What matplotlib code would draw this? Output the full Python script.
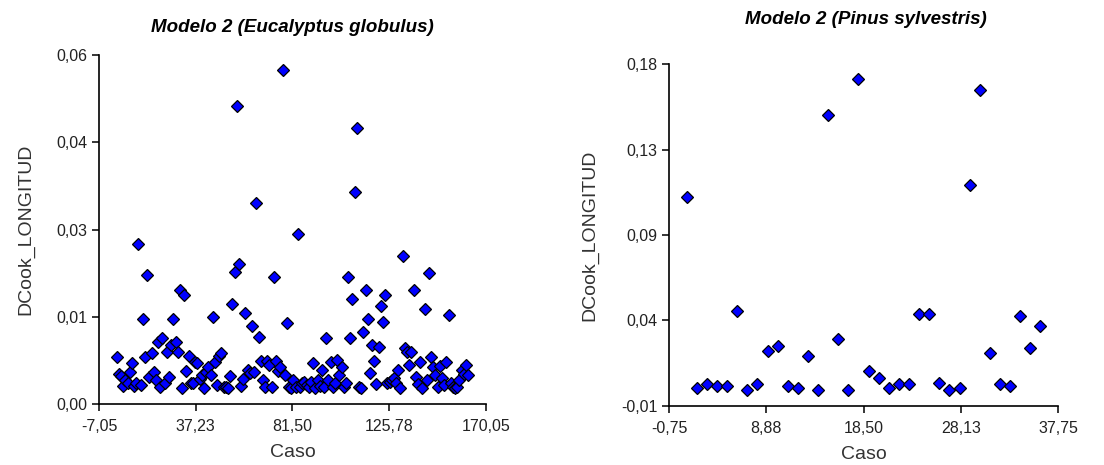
import numpy as np
import matplotlib
matplotlib.use('Agg')
import matplotlib.pyplot as plt

plt.rcParams['font.family'] = ['Liberation Sans', 'DejaVu Sans']

# Modelo 2 - Eucalyptus globulus (162 casos)
euc_dcook = [
    0.00814, 0.00516, 0.00487, 0.00309, 0.00413, 0.00367, 0.00556, 0.00699, 0.00309, 0.00367,
    0.02745, 0.00327, 0.01456, 0.00814, 0.02218, 0.00458, 0.00883, 0.00556, 0.00413, 0.01072,
    0.00298, 0.01129, 0.00355, 0.00900, 0.00470, 0.01014, 0.01456, 0.01072, 0.00900, 0.01960,
    0.00269, 0.01874, 0.00573, 0.00825, 0.00367, 0.00367, 0.00728, 0.00711, 0.00424, 0.00499,
    0.00269, 0.00556, 0.00642, 0.00499, 0.01490, 0.00728, 0.00327, 0.00825, 0.00883, 0.00298,
    0.00298, 0.00269, 0.00487, 0.01719, 0.02275, 0.05124, 0.02407, 0.00309, 0.00424, 0.01570,
    0.00585, 0.00539, 0.01341, 0.00556, 0.03450, 0.01158, 0.00745, 0.00413, 0.00298, 0.00745,
    0.00671, 0.00298, 0.02189, 0.00745, 0.00573, 0.00642, 0.05742, 0.00499, 0.01398, 0.00298,
    0.00269, 0.00413, 0.00287, 0.02923, 0.00298, 0.00355, 0.00384, 0.00327, 0.00287, 0.00384,
    0.00699, 0.00269, 0.00413, 0.00309, 0.00585, 0.00298, 0.01129, 0.00413, 0.00728, 0.00298,
    0.00367, 0.00756, 0.00499, 0.00642, 0.00298, 0.00355, 0.02189, 0.01129, 0.01800, 0.03651,
    0.04740, 0.00287, 0.00269, 0.01244, 0.01960, 0.01456, 0.00539, 0.01014, 0.00745, 0.00344,
    0.00986, 0.01685, 0.01416, 0.01874, 0.00355, 0.00384, 0.00413, 0.00441, 0.00355, 0.00585,
    0.00269, 0.02545, 0.00957, 0.00900, 0.00671, 0.00900, 0.01960, 0.00470, 0.00344, 0.00728,
    0.00269, 0.01628, 0.00413, 0.02258, 0.00814, 0.00642, 0.00499, 0.00298, 0.00653, 0.00441,
    0.00327, 0.00728, 0.01530, 0.00355, 0.00287, 0.00269, 0.00298, 0.00413, 0.00585, 0.00516,
    0.00671, 0.00499,
]
euc_caso = np.arange(1, len(euc_dcook) + 1)

# Modelo 2 - Pinus sylvestris (36 casos)
pin_dcook = [
    0.106, 0.000, 0.002, 0.001, 0.001, 0.0427, -0.001, 0.002, 0.0204, 0.0232,
    0.001, 0.000, 0.0176, -0.001, 0.1516, 0.0269, -0.001, 0.172, 0.0093, 0.0056,
    0.000, 0.002, 0.002, 0.0408, 0.0408, 0.0028, -0.001, 0.000, 0.1126, 0.1655,
    0.0195, 0.002, 0.001, 0.0399, 0.0223, 0.0343,
]
pin_caso = np.arange(1, len(pin_dcook) + 1)

euc_xticks = [-7.05, 37.2375, 81.525, 125.8125, 170.05]
euc_xlabels = ['-7,05', '37,23', '81,50', '125,78', '170,05']
euc_yticks = [0.0, 0.015, 0.03, 0.045, 0.06]
euc_ylabels = ['0,00', '0,01', '0,03', '0,04', '0,06']

pin_xticks = [-0.75, 8.875, 18.5, 28.125, 37.75]
pin_xlabels = ['-0,75', '8,88', '18,50', '28,13', '37,75']
pin_yticks = [-0.01, 0.0375, 0.085, 0.1325, 0.18]
pin_ylabels = ['-0,01', '0,04', '0,09', '0,13', '0,18']

fig = plt.figure(figsize=(11.04, 4.65), dpi=100)
ax1 = fig.add_axes([0.0897, 0.1312, 0.3503, 0.7505])
ax2 = fig.add_axes([0.606, 0.1275, 0.3524, 0.7342])


def style(ax, x, y, xt, xl, yt, yl, ylpad):
    ax.plot(x, y, 'D', color='#0000ff', mec='black', mew=0.9, ms=6.2, ls='none',
            clip_on=False)
    ax.set_xlim(xt[0], xt[-1])
    ax.set_ylim(yt[0], yt[-1])
    ax.set_xticks(xt, xl)
    ax.set_yticks(yt, yl)
    for s in ['top', 'right']:
        ax.spines[s].set_visible(False)
    for s in ['left', 'bottom']:
        ax.spines[s].set_linewidth(1.2)
    ax.tick_params(direction='out', length=5, width=1.1, labelsize=11.5,
                   labelcolor='#222222')
    ax.tick_params(axis='x', pad=6)
    ax.set_xlabel('Caso', fontsize=14, color='#333333', labelpad=7)
    ax.set_ylabel('DCook_LONGITUD', fontsize=14, color='#333333', labelpad=ylpad)


style(ax1, euc_caso, euc_dcook, euc_xticks, euc_xlabels, euc_yticks, euc_ylabels, 16)
style(ax2, pin_caso, pin_dcook, pin_xticks, pin_xlabels, pin_yticks, pin_ylabels, 16)

fig.text(292 / 1104, 1 - 27 / 465, 'Modelo 2 (Eucalyptus globulus)', fontsize=13.5,
         fontweight='bold', style='italic', ha='center', va='center')
fig.text(866 / 1104, 1 - 20 / 465, 'Modelo 2 (Pinus sylvestris)', fontsize=13.5,
         fontweight='bold', style='italic', ha='center', va='center')

plt.savefig('out.png', dpi=100)
